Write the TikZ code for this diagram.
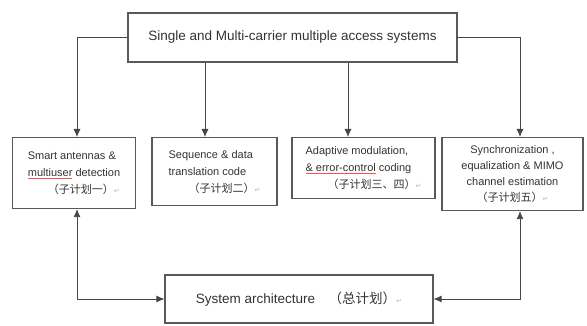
\documentclass[tikz,border=0pt]{standalone}
\usepackage{fontspec}
\setmainfont{Liberation Sans}
\newfontfamily\cjkfont{Noto Sans CJK SC}
\newfontfamily\markfont{DejaVu Sans}
\usetikzlibrary{arrows.meta,positioning,calc}
\newcommand{\pmark}{{\markfont\color{gray!55}\scriptsize ↵}}
\newcommand{\redul}[1]{\setbox0\hbox{#1}\rlap{\color{red!70}\rule[-2.2pt]{\wd0}{0.6pt}}#1}

\begin{document}
\begin{tikzpicture}[x=1pt,y=-1pt,
	box/.style={draw=gray!70!black,line width=1.1pt,fill=white,inner sep=4pt,text=gray!40!black,font=\fontsize{11}{17}\selectfont},
	link/.style={draw=gray!55!black,line width=0.8pt,-{Latex[length=8pt,width=7pt]}},
	twoway/.style={link,{Latex[length=8pt,width=7pt]}-{Latex[length=8pt,width=7pt]}}]
				\useasboundingbox (0,0) rectangle (587,326);
				\node[box,minimum width=329pt,minimum height=49pt,font=\fontsize{13.5}{16}\selectfont] (top) at (292.5,37.5) {Single and Multi-carrier multiple access systems};
				\node[box,anchor=north,minimum width=123pt,minimum height=71pt,align=left] (b1) at (74,137) {Smart antennas \&\\\redul{multiuser} detection\\\hspace*{20pt}{\cjkfont （子计划一）}\pmark};
				\node[box,anchor=north,minimum width=125pt,minimum height=68pt,align=left] (b2) at (214.5,137) {Sequence \& data\\translation code\\\hspace*{20pt}{\cjkfont （子计划二）}\pmark};
				\node[box,anchor=north,minimum width=143pt,minimum height=61pt,align=left] (b3) at (363.5,137) {Adaptive modulation,\\\redul{\& error-control} coding\\\hspace*{22pt}{\cjkfont （子计划三、四）}\pmark};
				\node[box,anchor=north,minimum width=141pt,minimum height=73pt,align=center,font=\fontsize{11}{16}\selectfont] (b4) at (512.5,137) {Synchronization ,\\equalization \& MIMO\\channel estimation\\{\cjkfont （子计划五）}\pmark};
				\node[box,minimum width=268pt,minimum height=48pt,font=\fontsize{13.5}{16}\selectfont] (bot) at (299,299) {System architecture\quad{\cjkfont （总计划）}\pmark};
				\foreach \n/\x in {1/77,2/205,3/348,4/520}
				\coordinate (x\n) at (\x,0);
				\draw[link] (top.west) -| (b1.north -| x1);
				\draw[link] (top.south -| x2) -- (b2.north -| x2);
				\draw[link] (top.south -| x3) -- (b3.north -| x3);
				\draw[link] (top.east) -| (b4.north -| x4);
				\draw[twoway] (b1.south -| x1) |- (bot.west);
				\draw[twoway] (bot.east) -| (b4.south -| x4);
				\end{tikzpicture}
\end{document}
